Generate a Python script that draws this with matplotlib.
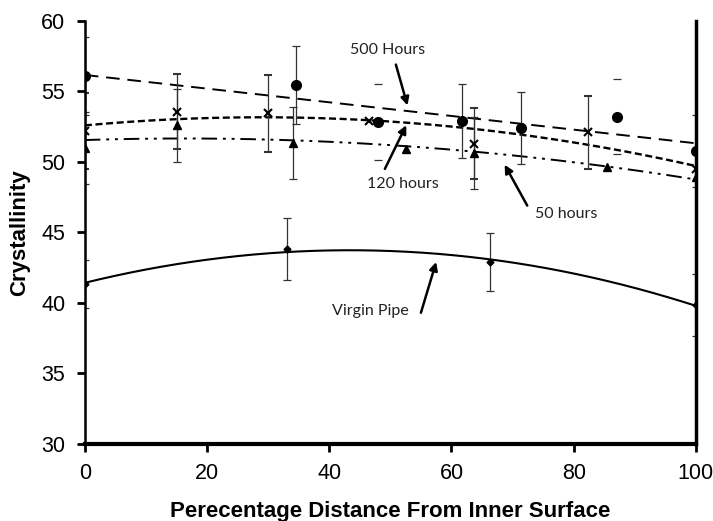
import numpy as np
import matplotlib
matplotlib.use("Agg")
import matplotlib.pyplot as plt

plt.rcParams['font.family'] = ['Liberation Sans', 'DejaVu Sans']

# 500 hours (circles)
x_500 = [0, 34.5, 48, 61.8, 71.3, 87.1, 100]
y_500 = [56.1, 55.45, 52.8, 52.9, 52.4, 53.2, 50.77]
e_500 = [2.75, 2.8, 2.7, 2.65, 2.55, 2.65, 2.55]
hidden_500 = [2, 5]  # caps only, no visible bar line

# 120 hours (crosses)
x_120 = [0, 15, 30, 46.5, 63.7, 82.3, 100]
y_120 = [52.2, 53.55, 53.43, 52.9, 51.3, 52.1, 49.5]
e_120 = [2.7, 2.65, 2.7, np.nan, 2.5, 2.6, np.nan]

# 50 hours (triangles)
x_50 = [0, 15, 34.1, 52.6, 63.7, 85.4, 100]
y_50 = [51.0, 52.6, 51.35, 50.94, 50.6, 49.6, 48.9]
e_50 = [2.55, 2.6, 2.55, np.nan, 2.55, np.nan, np.nan]

# virgin pipe (diamonds)
x_v = [0, 33.1, 66.3, 100]
y_v = [41.35, 43.82, 42.87, 39.86]
e_v = [1.7, 2.2, 2.06, 2.2]

fig = plt.figure(figsize=(7.13, 5.21), dpi=100)
ax = fig.add_axes([0.119, 0.148, 0.857, 0.812])

xs = np.linspace(0, 100, 200)

def trend(x, y, deg):
    return np.polyval(np.polyfit(x, y, deg), xs)

ax.plot(xs, trend(x_500, y_500, 1), color='black', lw=1.4, dashes=(7, 4))
ax.plot(xs, trend(x_120, y_120, 2), color='black', lw=1.7, dashes=(3, 1.5))
ax.plot(xs, trend(x_50, y_50, 2), color='black', lw=1.4, dashes=(8, 3, 1.5, 3, 1.5, 3))
ax.plot(xs, trend(x_v, y_v, 2), color='black', lw=1.5)

ekw = dict(ls='none', ecolor='#333333', elinewidth=0.9, capsize=3, capthick=0.9, color='black')
r = ax.errorbar(x_500, y_500, yerr=e_500, fmt='o', ms=7, **ekw)
segs = r[2][0].get_segments()
r[2][0].set_segments([s for i, s in enumerate(segs) if i not in hidden_500])
ax.errorbar(x_120, y_120, yerr=e_120, fmt='x', ms=6, mew=1.5, **ekw)
ax.errorbar(x_50, y_50, yerr=e_50, fmt='^', ms=6, **ekw)
ax.errorbar(x_v, y_v, yerr=e_v, fmt='D', ms=3.5, **ekw)

ax.set_xlim(0, 100)
ax.set_ylim(30, 60)
ax.set_xticks(range(0, 101, 20))
ax.set_yticks(range(30, 61, 5))
ax.tick_params(axis='both', labelsize=15.5, direction='out', length=6, width=2, pad=8)
ax.spines['top'].set_visible(False)
ax.spines['left'].set_linewidth(1.8)
ax.spines['bottom'].set_linewidth(3)
ax.spines['right'].set_linewidth(2.5)

ax.set_xlabel('Perecentage Distance From Inner Surface', fontsize=16, fontweight='bold', labelpad=12)
ax.set_ylabel('Crystallinity', fontsize=16, fontweight='bold', labelpad=8)

arrow = dict(arrowstyle='-|>', lw=1.8, color='black', mutation_scale=12, shrinkA=0, shrinkB=0)
tkw = dict(fontsize=11.5, family=['Lato', 'DejaVu Sans'], color='#222222', ha='center', va='center')

labels = [('500 Hours', (49.6, 57.9), (50.9, 56.9), (52.8, 54.0)),
          ('120 hours', (52.0, 48.45), (49.1, 49.5), (52.6, 52.6)),
          ('50 hours', (78.7, 46.3), (72.4, 46.9), (68.7, 49.8)),
          ('Virgin Pipe', (46.8, 39.4), (55.0, 39.3), (57.5, 42.9))]
for txt, pos, tail, head in labels:
    ax.text(pos[0], pos[1], txt, **tkw)
    ax.annotate('', xy=head, xytext=tail, arrowprops=arrow)

fig.savefig('out.png', dpi=100)
